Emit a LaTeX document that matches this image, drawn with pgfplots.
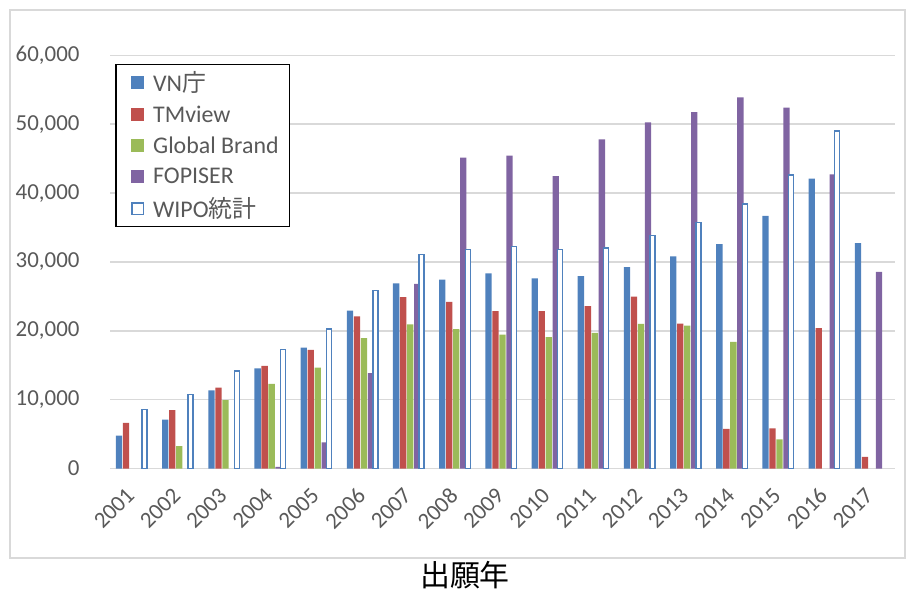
\documentclass[border=0pt]{standalone}
\usepackage{pgfplots}
\pgfplotsset{compat=1.18}
\usepackage{pgfplotstable}
\usepackage{fontspec}
\setmainfont{Carlito}
\newfontfamily\cjk{Noto Sans CJK JP}
\definecolor{cblue}{HTML}{4F81BD}
\definecolor{cred}{HTML}{C0504D}
\definecolor{cgreen}{HTML}{9BBB59}
\definecolor{cpurple}{HTML}{8064A2}
\definecolor{gridgray}{HTML}{D9D9D9}
\definecolor{labelgray}{HTML}{595959}

\pgfplotstableread{
idx vn tm gb fop wipo
0 4800 6650 nan nan 8550
1 7100 8500 3250 nan 10750
2 11350 11750 9950 nan 14150
3 14550 14900 12300 250 17250
4 17550 17250 14650 3800 20250
5 22950 22100 18950 13850 25850
6 26900 24900 20950 26800 31050
7 27450 24200 20250 45150 31850
8 28350 22850 19450 45450 32250
9 27600 22850 19100 42450 31850
10 27950 23600 19700 47800 32050
11 29250 24950 21000 50250 33850
12 30800 21050 20750 51750 35700
13 32600 5750 18400 53900 38400
14 36700 5850 4250 52400 42600
15 42100 20400 nan 42700 49000
16 32750 1700 nan 28550 nan
}\datatable

\begin{document}
\begin{tikzpicture}
\useasboundingbox (0bp,0bp) rectangle (906bp,590bp);
\draw[color=gridgray, line width=1.2bp] (10bp,32bp) rectangle (905bp,580bp);
\node[font=\cjk\fontsize{30}{34}\selectfont, anchor=center, inner sep=0pt] at (465bp,14.5bp) {出願年};
\begin{axis}[
  at={(110bp,121.4bp)}, anchor=south west,
  scale only axis, width=785bp, height=413.3bp,
  xmin=-0.5, xmax=16.5, ymin=0, ymax=60000,
  ybar=0.7bp, bar width=6.3bp,
  axis line style={draw=none},
  major tick length=0pt,
  ymajorgrids, grid style={gridgray, line width=1.5bp},
  ytick={0,10000,20000,30000,40000,50000,60000},
  scaled y ticks=false,
  yticklabel={\pgfmathprintnumber[assume math mode=true,fixed,1000 sep={,}]{\tick}},
  xtick={0,...,16},
  xticklabels={2001,2002,2003,2004,2005,2006,2007,2008,2009,2010,2011,2012,2013,2014,2015,2016,2017},
  ticklabel style={font=\fontsize{23}{27}\selectfont, text=labelgray},
  yticklabel style={xshift=-27bp},
  xticklabel style={anchor=north east, xshift=-8bp, yshift=-13bp, rotate=45},
  legend cell align=left,
  legend image code/.code={\path (0bp,0bp); \fill[#1] (7bp,-6.5bp) rectangle (20bp,6.5bp); \path (25bp,0bp);},
  legend style={at={(rel axis cs:0.0064,0.98)}, anchor=north west,
    draw=black, line width=1.5bp, fill=white,
    font=\fontsize{24}{28}\selectfont, text=labelgray,
    inner xsep=8bp, inner ysep=5bp, row sep=9bp,
    nodes={inner xsep=3bp},
    /tikz/every even column/.append style={column sep=0bp}},
]
\addplot[fill=cblue, draw=none] table[x=idx, y=vn] {\datatable};
\addplot[fill=cred, draw=none] table[x=idx, y=tm] {\datatable};
\addplot[fill=cgreen, draw=none] table[x=idx, y=gb] {\datatable};
\addplot[fill=cpurple, draw=none] table[x=idx, y=fop] {\datatable};
\addplot[fill=white, draw=cblue, line width=1.4bp, bar width=5bp,
  legend image code/.code={\path (0bp,0bp); \draw[fill=white, draw=cblue, line width=1.4bp] (7.7bp,-5.8bp) rectangle (19.3bp,5.8bp); \path (25bp,0bp);}] table[x=idx, y=wipo] {\datatable};
\legend{VN{\cjk 庁},TMview,Global Brand,FOPISER,WIPO{\cjk 統計}}
\end{axis}
\end{tikzpicture}
\end{document}
